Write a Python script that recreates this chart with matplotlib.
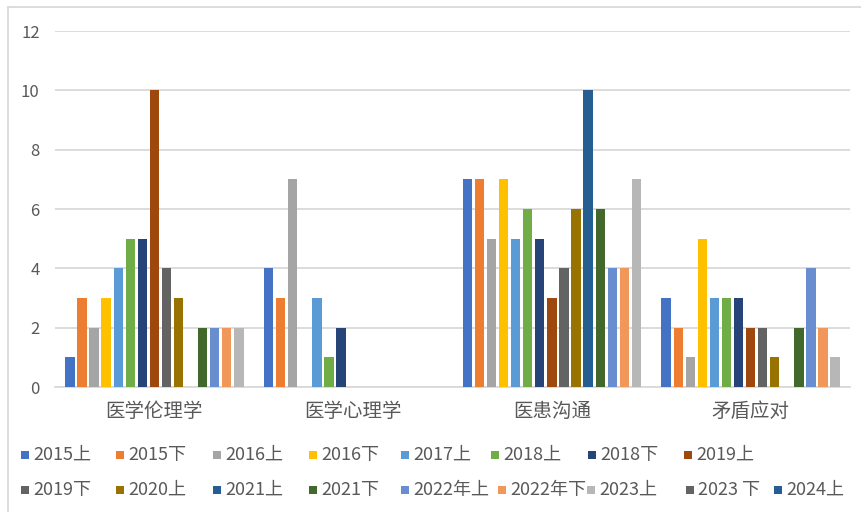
import matplotlib
matplotlib.use("Agg")
import matplotlib.pyplot as plt
from matplotlib.patches import Rectangle
import numpy as np

plt.rcParams['font.family'] = ['Noto Sans CJK SC', 'DejaVu Sans']

categories = ["医学伦理学", "医学心理学", "医患沟通", "矛盾应对"]
series_names = ["2015上", "2015下", "2016上", "2016下", "2017上", "2018上", "2018下", "2019上",
                "2019下", "2020上", "2021上", "2021下", "2022年上", "2022年下", "2023上", "2023 下", "2024上"]
series_colors = ["#4472C4", "#ED7D31", "#A5A5A5", "#FFC000", "#5B9BD5", "#70AD47", "#264478", "#9E480E",
                 "#636363", "#997300", "#255E91", "#43682B", "#698ED0", "#F1975A", "#B7B7B7", "#636363", "#255E91"]
# values[series][category]
values = [
    [1, 4, 7, 3],    # 2015上
    [3, 3, 7, 2],    # 2015下
    [2, 7, 5, 1],    # 2016上
    [3, 0, 7, 5],    # 2016下
    [4, 3, 5, 3],    # 2017上
    [5, 1, 6, 3],    # 2018上
    [5, 2, 5, 3],    # 2018下
    [10, 0, 3, 2],   # 2019上
    [4, 0, 4, 2],    # 2019下
    [3, 0, 6, 1],    # 2020上
    [0, 0, 10, 0],   # 2021上
    [2, 0, 6, 2],    # 2021下
    [2, 0, 4, 4],    # 2022年上
    [2, 0, 4, 2],    # 2022年下
    [2, 0, 7, 1],    # 2023上
    [0, 0, 0, 0],    # 2023 下
    [0, 0, 0, 0],    # 2024上
]
y_ticks = [0, 2, 4, 6, 8, 10, 12]

W, H = 862, 512
fig = plt.figure(figsize=(W / 100, H / 100), dpi=100)
fig.patch.set_facecolor("white")

ax = fig.add_axes([55 / W, 1 - 387 / H, (850 - 55) / W, (387 - 31) / H])
x = np.arange(len(categories))
step = 12.07 / 198.75
width = 9.3 / 198.75
for i, (name, col, vals) in enumerate(zip(series_names, series_colors, values)):
    ax.bar(x + (i - 7) * step, vals, width=width, color=col, zorder=3, label=name)

ax.set_xlim(-0.5, len(categories) - 0.5)
ax.set_ylim(0, 12)
ax.set_yticks(y_ticks)
ax.set_xticks(x)
ax.set_xticklabels(categories, fontsize=14, color="#595959")
ax.tick_params(axis='y', length=0, pad=11, labelsize=12, labelcolor="#595959")
ax.tick_params(axis='x', length=0, pad=10)
ax.grid(axis='y', color="#D9D9D9", linewidth=1.3, zorder=0)
for s in ["top", "right", "left"]:
    ax.spines[s].set_visible(False)
ax.spines["bottom"].set_color("#D9D9D9")
ax.spines["bottom"].set_linewidth(1.3)
ax.set_facecolor("none")

# chart border
fig.patches.append(Rectangle((8 / W, -0.05), 1.2, 1 - 6.5 / H + 0.05, transform=fig.transFigure,
                             fill=False, edgecolor="#D9D9D9", linewidth=1.3))

# legend, laid out as in the reference (two rows)
row_y = [455, 490]
row1_x = [21, 116, 213, 309, 401, 491, 588, 684]
row2_x = [21, 116, 213, 309, 401, 498, 587, 686, 774]
positions = [(xx, row_y[0]) for xx in row1_x] + [(xx, row_y[1]) for xx in row2_x]
for (px, py), name, col in zip(positions, series_names, series_colors):
    fig.patches.append(Rectangle((px / W, 1 - (py + 4) / H), 8 / W, 8 / H, transform=fig.transFigure,
                                 facecolor=col, edgecolor="none"))
    fig.text((px + 12) / W, 1 - py / H, name, fontsize=13, color="#595959", va="center", ha="left")

fig.savefig("out.png", dpi=100)
